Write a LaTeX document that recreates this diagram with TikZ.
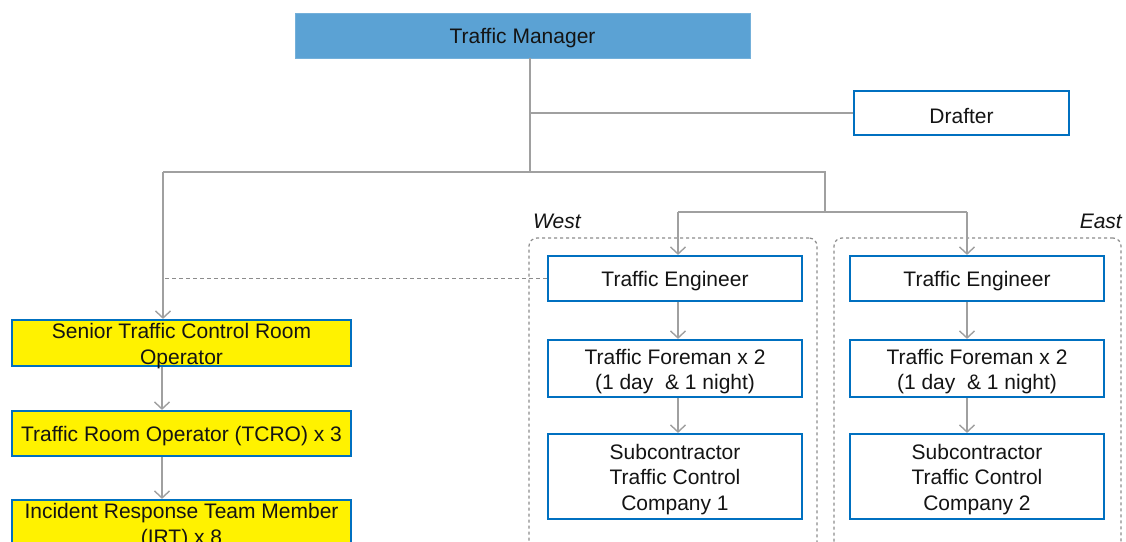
\documentclass[tikz,border=0pt]{standalone}
\usepackage{fontspec}
\setmainfont{Liberation Sans}
\usetikzlibrary{arrows.meta}
\definecolor{boxblue}{RGB}{0,112,192}
\definecolor{tmblue}{RGB}{91,162,212}
\definecolor{ylw}{RGB}{255,242,0}
\definecolor{linegray}{RGB}{160,160,160}
\definecolor{dashgray}{RGB}{140,140,140}
\definecolor{txt}{RGB}{20,20,20}
\tikzset{
  base/.style={rectangle, inner sep=0pt},
  rolebox/.style={base, draw=boxblue, line width=2.2pt, fill=white},
  ybox/.style={base, draw=boxblue, line width=2.2pt, fill=ylw},
  topbox/.style={base, fill=tmblue, draw=tmblue!85!white, line width=0.8pt},
  boxtext/.style={inner sep=0pt, align=center, text=txt, yshift=-3pt,
    font=\fontsize{21}{25.5}\selectfont},
  conn/.style={draw=linegray, line width=1.4pt},
  arr/.style={conn, -{Straight Barb[length=7pt,width=15pt,line width=1.4pt]}},
  dashconn/.style={draw=dashgray, line width=1.2pt, dash pattern=on 4pt off 3pt},
  group/.style={rectangle, draw=dashgray, line width=1.2pt, dash pattern=on 3pt off 3pt, rounded corners=8pt},
  region/.style={font=\fontsize{21}{25}\selectfont\itshape, text=txt, inner sep=0pt}
}
\begin{document}
\begin{tikzpicture}[x=1pt,y=-1pt]
\clip (0,0) rectangle (1126,541);
\fill[white] (0,0) rectangle (1126,541);

% groups
\node[group, minimum width=288pt, minimum height=330pt] (wgrp) at (673,403) {};
\node[group, minimum width=287pt, minimum height=330pt] (egrp) at (977.5,403) {};
\node[region, anchor=base west] (wlbl) at (533,228) {West};
\node[region, anchor=base east] (elbl) at (1122,228) {East};

% boxes
\node[topbox, minimum width=455pt, minimum height=45pt] (tm) at (522.5,35.5) {};
\node[rolebox, minimum width=215pt, minimum height=44pt] (drafter) at (961.5,113) {};

\node[ybox, minimum width=339pt, minimum height=46pt] (senior) at (181.5,343) {};
\node[ybox, minimum width=339pt, minimum height=45pt] (tcro) at (181.5,433.5) {};
\node[ybox, minimum width=339pt, minimum height=46pt] (irt) at (181.5,523) {};

\node[rolebox, minimum width=254pt, minimum height=45pt] (wte) at (675,278.5) {};
\node[rolebox, minimum width=254pt, minimum height=57pt] (wfm) at (675,368.5) {};
\node[rolebox, minimum width=254pt, minimum height=85pt] (wsub) at (675,476.5) {};

\node[rolebox, minimum width=254pt, minimum height=45pt] (ete) at (977,278.5) {};
\node[rolebox, minimum width=254pt, minimum height=57pt] (efm) at (977,368.5) {};
\node[rolebox, minimum width=254pt, minimum height=85pt] (esub) at (977,476.5) {};

% texts
\node[boxtext] (tmt) at (tm.center) {Traffic Manager};
\node[boxtext] (drt) at (drafter.center) {Drafter};
\node[boxtext] (sent) at (senior.center) {Senior Traffic Control Room\\Operator};
\node[boxtext] (tcrot) at (tcro.center) {Traffic Room Operator (TCRO) x 3};
\node[boxtext] (irtt) at (irt.center) {Incident Response Team Member\\(IRT) x 8};
\node[boxtext] (wtet) at (wte.center) {Traffic Engineer};
\node[boxtext] (wfmt) at (wfm.center) {Traffic Foreman x 2\\(1 day\ \ \& 1 night)};
\node[boxtext] (wsubt) at (wsub.center) {Subcontractor\\Traffic Control\\Company 1};
\node[boxtext] (etet) at (ete.center) {Traffic Engineer};
\node[boxtext] (efmt) at (efm.center) {Traffic Foreman x 2\\(1 day\ \ \& 1 night)};
\node[boxtext] (esubt) at (esub.center) {Subcontractor\\Traffic Control\\Company 2};

% junctions
\coordinate (jd) at (530,113);
\coordinate (jm) at (530,172);
\coordinate (jl) at (163,172);
\coordinate (jr) at (825,172);
\coordinate (jr2) at (825,212);
\coordinate (jw) at (678,212);
\coordinate (je) at (967,212);
\coordinate (xl) at (162,0);

% connectors
\draw[conn] (tm.south -| jm) -- (jm);
\draw[conn] (jd) -- (drafter.west);
\draw[conn] (jl) -- (jr) -- (jr2);
\draw[conn] (jw) -- (je);
\draw[arr] (jl) -- (senior.north -| jl);
\draw[arr] (jw) -- (wte.north -| jw);
\draw[arr] (je) -- (ete.north -| je);
\draw[dashconn] (wte.west) -- (wte.west -| jl);

\draw[arr] (senior.south -| xl) -- (tcro.north -| xl);
\draw[arr] (tcro.south -| xl) -- (irt.north -| xl);

\draw[arr] (wte.south -| jw) -- (wfm.north -| jw);
\draw[arr] (wfm.south -| jw) -- (wsub.north -| jw);
\draw[arr] (ete.south -| je) -- (efm.north -| je);
\draw[arr] (efm.south -| je) -- (esub.north -| je);
\end{tikzpicture}
\end{document}
